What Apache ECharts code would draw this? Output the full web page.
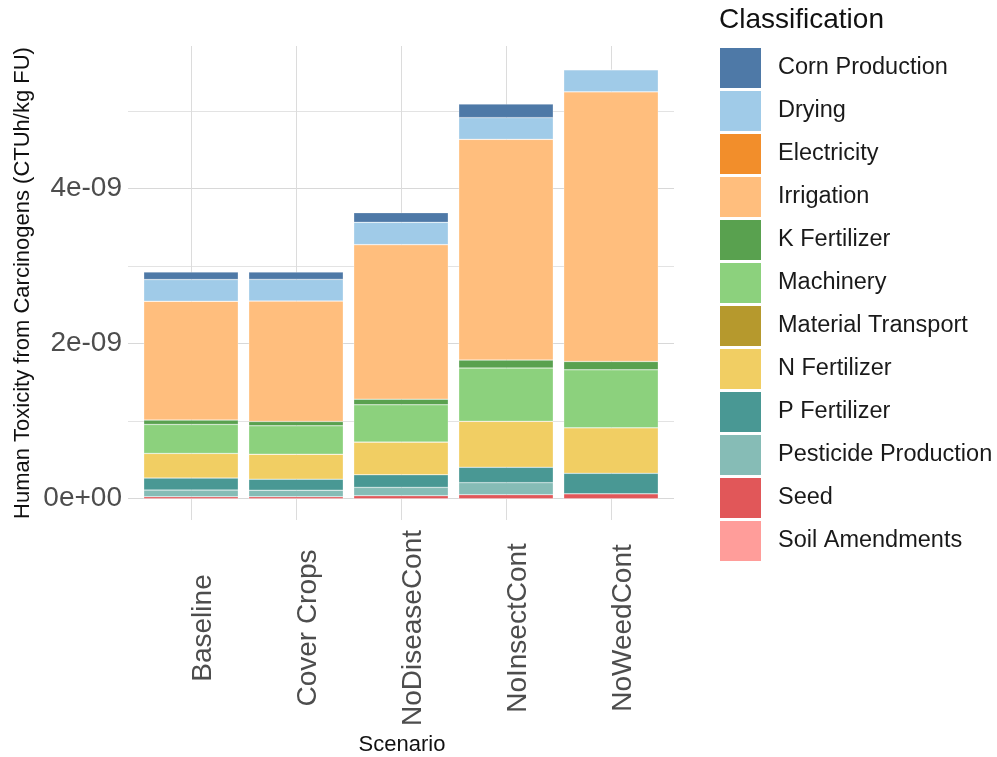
<!DOCTYPE html>
<html>
<head>
<meta charset="utf-8">
<script src="https://cdn.jsdelivr.net/npm/echarts@6/dist/echarts.min.js"></script>
<style>
  html, body { margin: 0; padding: 0; background: #ffffff; }
  #chart { width: 997px; height: 757px; }
</style>
</head>
<body>
<div id="chart"></div>
<script>
// Scenarios on the x axis
const scenarios = ['Baseline', 'Cover Crops', 'NoDiseaseCont', 'NoInsectCont', 'NoWeedCont'];

// Human toxicity (carcinogens) per classification, CTUh/kg FU
const cornProduction      = [0.098e-9, 0.095e-9, 0.125e-9, 0.175e-9, 0];
const drying              = [0.280e-9, 0.278e-9, 0.287e-9, 0.280e-9, 0.284e-9];
const electricity         = [0, 0, 0, 0, 0];
const irrigation          = [1.533e-9, 1.555e-9, 1.994e-9, 2.848e-9, 3.479e-9];
const kFertilizer         = [0.056e-9, 0.056e-9, 0.073e-9, 0.103e-9, 0.108e-9];
const machinery           = [0.374e-9, 0.366e-9, 0.481e-9, 0.687e-9, 0.747e-9];
const materialTransport   = [0, 0, 0, 0, 0];
const nFertilizer         = [0.318e-9, 0.322e-9, 0.421e-9, 0.593e-9, 0.588e-9];
const pFertilizer         = [0.155e-9, 0.142e-9, 0.163e-9, 0.198e-9, 0.263e-9];
const pesticideProduction = [0.086e-9, 0.085e-9, 0.107e-9, 0.155e-9, 0];
const seed                = [0.025e-9, 0.025e-9, 0.039e-9, 0.052e-9, 0.064e-9];
const soilAmendments      = [0, 0, 0, 0, 0];

// Y tick labels
const yTickLabels = { 0: '0e+00', 2: '2e-09', 4: '4e-09' };

// Legend order (top of the stack first)
const classes = [
  { name: 'Corn Production',      data: cornProduction,      color: '#4E79A7' },
  { name: 'Drying',               data: drying,              color: '#A0CBE8' },
  { name: 'Electricity',          data: electricity,         color: '#F28E2B' },
  { name: 'Irrigation',           data: irrigation,          color: '#FFBE7D' },
  { name: 'K Fertilizer',         data: kFertilizer,         color: '#59A14F' },
  { name: 'Machinery',            data: machinery,           color: '#8CD17D' },
  { name: 'Material Transport',   data: materialTransport,   color: '#B6992D' },
  { name: 'N Fertilizer',         data: nFertilizer,         color: '#F1CE63' },
  { name: 'P Fertilizer',         data: pFertilizer,         color: '#499894' },
  { name: 'Pesticide Production', data: pesticideProduction, color: '#86BCB6' },
  { name: 'Seed',                 data: seed,                color: '#E15759' },
  { name: 'Soil Amendments',      data: soilAmendments,      color: '#FF9D9A' }
];

const FONT = '"Liberation Sans", Arial, Helvetica, sans-serif';
const zeroY = 498.7;        // pixel row of the zero line
const pxPerUnit = 77.5;     // pixels per 1e-9
const panelTop = 46;
const panelBottom = 520;

const chart = echarts.init(document.getElementById('chart'), null, { renderer: 'canvas' });

// ECharts stacks the first series at the bottom, so reverse the legend order
const barSeries = classes.slice().reverse().map(c => ({
  name: c.name,
  type: 'bar',
  stack: 'total',
  xAxisIndex: 0,
  yAxisIndex: 0,
  barWidth: '90%',
  data: c.data,
  itemStyle: { color: c.color, borderColor: 'rgba(255,255,255,0.55)', borderWidth: 0.5 },
  emphasis: { disabled: true }
}));

const option = {
  backgroundColor: '#ffffff',
  animation: false,
  textStyle: { fontFamily: FONT },
  grid: [
    // bars
    { left: 138.5, width: 525, top: panelTop, height: zeroY - panelTop, containLabel: false },
    // horizontal gridlines and y labels (0 .. 5e-9)
    { left: 128, width: 546, top: zeroY - 5 * pxPerUnit, height: 5 * pxPerUnit, containLabel: false },
    // vertical gridlines and x labels
    { left: 191, width: 420, top: panelTop, height: panelBottom - panelTop, containLabel: false }
  ],
  xAxis: [
    {
      gridIndex: 0, type: 'category', data: scenarios,
      axisLine: { show: false }, axisTick: { show: false }, axisLabel: { show: false },
      splitLine: { show: false }
    },
    {
      gridIndex: 1, type: 'value', min: 0, max: 1, show: false
    },
    {
      gridIndex: 2, type: 'category', data: scenarios, boundaryGap: false,
      axisLine: { show: false }, axisTick: { show: false },
      splitLine: { show: true, lineStyle: { color: '#dcdcdc', width: 1 } },
      axisLabel: {
        show: true, rotate: 90, interval: 0,
        align: 'center', verticalAlign: 'top', lineHeight: 24,
        margin: 108,
        fontSize: 28, color: '#4d4d4d', fontFamily: FONT
      }
    }
  ],
  yAxis: [
    {
      gridIndex: 0, type: 'value', min: 0, max: 5.84e-9, show: false
    },
    {
      gridIndex: 1, type: 'value', min: 0, max: 5e-9, interval: 1e-9,
      axisLine: { show: false }, axisTick: { show: false },
      splitLine: { show: true, lineStyle: { color: ['#d8d8d8', '#e3e3e3'], width: 1 } },
      axisLabel: {
        show: true, margin: 6, fontSize: 28, color: '#4d4d4d', fontFamily: FONT,
        formatter: v => {
          const k = Math.round(v / 1e-9);
          return yTickLabels[k] !== undefined ? yTickLabels[k] : '';
        }
      }
    },
    {
      gridIndex: 2, type: 'value', min: 0, max: 1, show: false
    }
  ],
  legend: {
    orient: 'vertical',
    left: 720,
    top: 48,
    padding: 0,
    itemWidth: 41,
    itemHeight: 40,
    itemGap: 3,
    icon: 'rect',
    selectedMode: false,
    itemStyle: { borderWidth: 0 },
    data: classes.map(c => c.name),
    textStyle: { fontSize: 23.5, color: '#1a1a1a', fontFamily: FONT, padding: [0, 0, 0, 12] }
  },
  graphic: [
    {
      type: 'text', left: 719, top: 6,
      style: { text: 'Classification', fontSize: 28, fill: '#111111', fontFamily: FONT }
    },
    {
      type: 'text', x: 402, y: 745,
      style: { text: 'Scenario', fontSize: 22, fill: '#111111', fontFamily: FONT,
               textAlign: 'center', textVerticalAlign: 'middle' }
    },
    {
      type: 'text', x: 23, y: 283, rotation: Math.PI / 2,
      style: { text: 'Human Toxicity from Carcinogens (CTUh/kg FU)', fontSize: 22, fill: '#111111',
               fontFamily: FONT, textAlign: 'center', textVerticalAlign: 'middle' }
    }
  ],
  series: barSeries
};

chart.setOption(option);
</script>
</body>
</html>
